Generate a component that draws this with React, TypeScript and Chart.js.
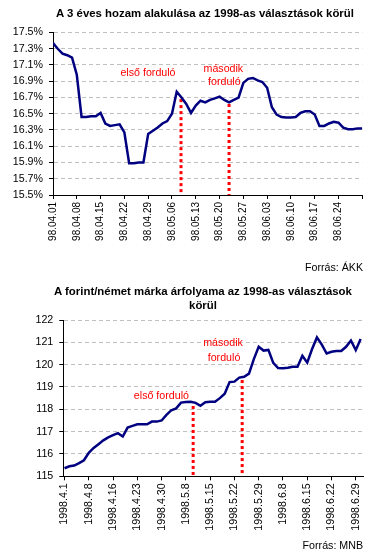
import React, { useEffect, useRef } from 'react';
import { Chart, registerables } from 'chart.js';

Chart.register(...registerables);

const FONT = '"Liberation Sans", Arial, sans-serif';

// ---- Chart 1: 3-year yield ----
const yieldTickLabels = ['98.04.01', '98.04.08', '98.04.15', '98.04.22', '98.04.29', '98.05.06', '98.05.13', '98.05.20', '98.05.27', '98.06.03', '98.06.10', '98.06.17', '98.06.24', ''];
const yieldTickIdx = [0, 5, 10, 15, 20, 25, 30, 35, 40, 45, 50, 55, 60, 65];
const yieldTicks = [15.5, 15.7, 15.9, 16.1, 16.3, 16.5, 16.7, 16.9, 17.1, 17.3, 17.5];
const yieldTickText = ['15.5%', '15.7%', '15.9%', '16.1%', '16.3%', '16.5%', '16.7%', '16.9%', '17.1%', '17.3%', '17.5%'];
const yieldValues = [
  17.37, 17.3, 17.24, 17.22, 17.19, 16.98, 16.46, 16.46, 16.47, 16.47,
  16.51, 16.38, 16.35, 16.36, 16.37, 16.27, 15.89, 15.89, 15.9, 15.9,
  16.25, 16.29, 16.33, 16.38, 16.41, 16.5, 16.77, 16.7, 16.62, 16.51,
  16.6, 16.66, 16.64, 16.67, 16.69, 16.71, 16.67, 16.64, 16.67, 16.7,
  16.88, 16.93, 16.94, 16.91, 16.89, 16.82, 16.58, 16.49, 16.46, 16.455,
  16.455, 16.46, 16.51, 16.53, 16.53, 16.49, 16.35, 16.35, 16.38, 16.4,
  16.39, 16.33, 16.31, 16.31, 16.32, 16.32,
];
const yieldRoundIdx = [26.9, 37.0];
const yieldRoundTop = [16.68, 16.62];
const yieldNotes = [
  { text: 'első forduló', x: 19.96, y: 17.005 },
  { text: 'második', x: 35.8, y: 17.05 },
  { text: 'forduló', x: 36.0, y: 16.895 },
];

// ---- Chart 2: HUF/DEM ----
const fxTickLabels = ['1998.4.1', '1998.4.8', '1998.4.16', '1998.4.23', '1998.4.30', '1998.5.8', '1998.5.15', '1998.5.22', '1998.5.29', '1998.6.8', '1998.6.15', '1998.6.22', '1998.6.29'];
const fxTickIdx = [0, 5, 10, 15, 20, 25, 30, 35, 40, 45, 50, 55, 60];
const fxTicks = [115, 116, 117, 118, 119, 120, 121, 122];
const fxTickText = ['115', '116', '117', '118', '119', '120', '121', '122'];
const fxValues = [
  115.36, 115.45, 115.48, 115.59, 115.72, 116.05, 116.27, 116.44, 116.61, 116.74,
  116.84, 116.93, 116.78, 117.18, 117.26, 117.33, 117.33, 117.33, 117.45, 117.45,
  117.5, 117.75, 117.96, 118.04, 118.3, 118.33, 118.34, 118.29, 118.16, 118.32,
  118.34, 118.34, 118.5, 118.7, 119.22, 119.24, 119.42, 119.46, 119.6, 120.25,
  120.8, 120.63, 120.66, 120.08, 119.85, 119.84, 119.86, 119.91, 119.91, 120.4,
  120.09, 120.7, 121.22, 120.9, 120.5, 120.58, 120.61, 120.61, 120.8, 121.08,
  120.65, 121.15,
];
const fxRoundIdx = [26.5, 36.6];
const fxRoundTop = [118.15, 119.31];
const fxNotes = [
  { text: 'első forduló', x: 19.96, y: 118.61 },
  { text: 'második', x: 32.65, y: 120.96 },
  { text: 'forduló', x: 32.86, y: 120.29 },
];

type Note = { text: string; x: number; y: number };

function notesPlugin(items: Note[]) {
  return {
    id: 'notes',
    afterDatasetsDraw(chart: any) {
      const { ctx } = chart;
      const xs = chart.scales.x;
      const ys = chart.scales.y;
      ctx.save();
      ctx.font = `10.67px ${FONT}`;
      ctx.fillStyle = '#ff0000';
      ctx.textAlign = 'center';
      ctx.textBaseline = 'middle';
      for (const n of items) {
        ctx.fillText(n.text, xs.getPixelForValue(n.x), ys.getPixelForValue(n.y));
      }
      ctx.restore();
    },
  };
}

function buildConfig(p: any): any {
  const datasets: any[] = [
    {
      data: p.values.map((v: number, i: number) => ({ x: i, y: v })),
      borderColor: '#000080',
      borderWidth: 2.5,
      pointRadius: 0,
      tension: 0,
      fill: false,
    },
  ];
  p.roundIdx.forEach((xi: number, k: number) => {
    datasets.push({
      data: [
        { x: xi, y: p.roundTop[k] },
        { x: xi, y: p.yMin },
      ],
      borderColor: '#ff0000',
      borderWidth: 3,
      borderDash: [3, 3],
      pointRadius: 0,
      fill: false,
    });
  });
  return {
    type: 'line',
    data: { datasets },
    options: {
      animation: false,
      responsive: false,
      events: [],
      layout: { padding: p.padding },
      plugins: { legend: { display: false }, tooltip: { enabled: false }, title: { display: false } },
      scales: {
        x: {
          type: 'linear',
          min: p.xMin,
          max: p.xMax,
          afterBuildTicks: (s: any) => {
            s.ticks = p.xTickIdx.map((v: number) => ({ value: v }));
          },
          afterFit: (s: any) => {
            s.height = p.xHeight;
          },
          ticks: {
            autoSkip: false,
            minRotation: 90,
            maxRotation: 90,
            padding: 3,
            color: '#000',
            font: { family: FONT, size: p.xFontSize },
            callback: (_v: any, i: number) => p.xLabels[i] ?? '',
          },
          grid: { drawOnChartArea: false, color: '#000', tickLength: 4 },
          border: { color: '#000', width: 1 },
        },
        y: {
          type: 'linear',
          min: p.yMin,
          max: p.yMax,
          afterBuildTicks: (s: any) => {
            s.ticks = p.yTicks.map((v: number) => ({ value: v }));
          },
          afterFit: (s: any) => {
            s.width = p.yWidth;
          },
          ticks: {
            padding: 6,
            color: '#000',
            font: { family: FONT, size: 10.67 },
            callback: (_v: any, i: number) => p.yLabels[i] ?? '',
          },
          grid: {
            color: (c: any) => (c.tick && c.tick.value === p.yMin ? 'rgba(0,0,0,0)' : '#c0c0c0'),
            tickColor: '#000',
            tickLength: 4,
            lineWidth: 1,
          },
          border: { color: '#000', width: 1, dash: [4, 3] },
        },
      },
    },
    plugins: [notesPlugin(p.notes)],
  };
}

export default function App() {
  const c1 = useRef<HTMLCanvasElement>(null);
  const c2 = useRef<HTMLCanvasElement>(null);

  useEffect(() => {
    const ch1 = new Chart(
      c1.current as HTMLCanvasElement,
      buildConfig({
        values: yieldValues,
        roundIdx: yieldRoundIdx,
        roundTop: yieldRoundTop,
        notes: yieldNotes,
        xMin: 0,
        xMax: 65,
        xTickIdx: yieldTickIdx,
        xLabels: yieldTickLabels,
        xFontSize: 10,
        yMin: 15.5,
        yMax: 17.5,
        yTicks: yieldTicks,
        yLabels: yieldTickText,
        yWidth: 53,
        xHeight: 50,
        padding: { left: 0, right: 26.7, top: 32.5, bottom: 35 },
      })
    );
    const ch2 = new Chart(
      c2.current as HTMLCanvasElement,
      buildConfig({
        values: fxValues,
        roundIdx: fxRoundIdx,
        roundTop: fxRoundTop,
        notes: fxNotes,
        xMin: -0.25,
        xMax: 61.55,
        xTickIdx: fxTickIdx,
        xLabels: fxTickLabels,
        xFontSize: 10.67,
        yMin: 115,
        yMax: 122,
        yTicks: fxTicks,
        yLabels: fxTickText,
        yWidth: 63.3,
        xHeight: 60,
        padding: { left: 0, right: 25.7, top: 40, bottom: 21.7 },
      })
    );
    return () => {
      ch1.destroy();
      ch2.destroy();
    };
  }, []);

  const titleStyle: React.CSSProperties = {
    position: 'absolute',
    fontFamily: FONT,
    fontWeight: 'bold',
    fontSize: '11.4px',
    lineHeight: '14.3px',
    textAlign: 'center',
    color: '#000',
    whiteSpace: 'nowrap',
  };
  const srcStyle: React.CSSProperties = {
    position: 'absolute',
    fontFamily: FONT,
    fontSize: '10.67px',
    lineHeight: '14px',
    textAlign: 'right',
    color: '#000',
    left: 0,
    width: 363,
  };

  return (
    <div style={{ position: 'fixed', left: 0, top: 0, width: 389, height: 558, background: '#fff', overflow: 'hidden' }}>
      <canvas ref={c1} width={389} height={280} style={{ position: 'absolute', left: 0, top: 0, width: 389, height: 280 }} />
      <canvas ref={c2} width={389} height={278} style={{ position: 'absolute', left: 0, top: 280, width: 389, height: 278 }} />
      <div style={{ ...titleStyle, left: 5, width: 400, top: 6.2 }}>
        A 3 éves hozam alakulása az 1998-as választások körül
      </div>
      <div style={{ ...srcStyle, top: 259.7 }}>Forrás: ÁKK</div>
      <div style={{ ...titleStyle, left: 3, width: 400, top: 283.5 }}>
        A forint/német márka árfolyama az 1998-as választások
        <br />
        körül
      </div>
      <div style={{ ...srcStyle, top: 538 }}>Forrás: MNB</div>
    </div>
  );
}
